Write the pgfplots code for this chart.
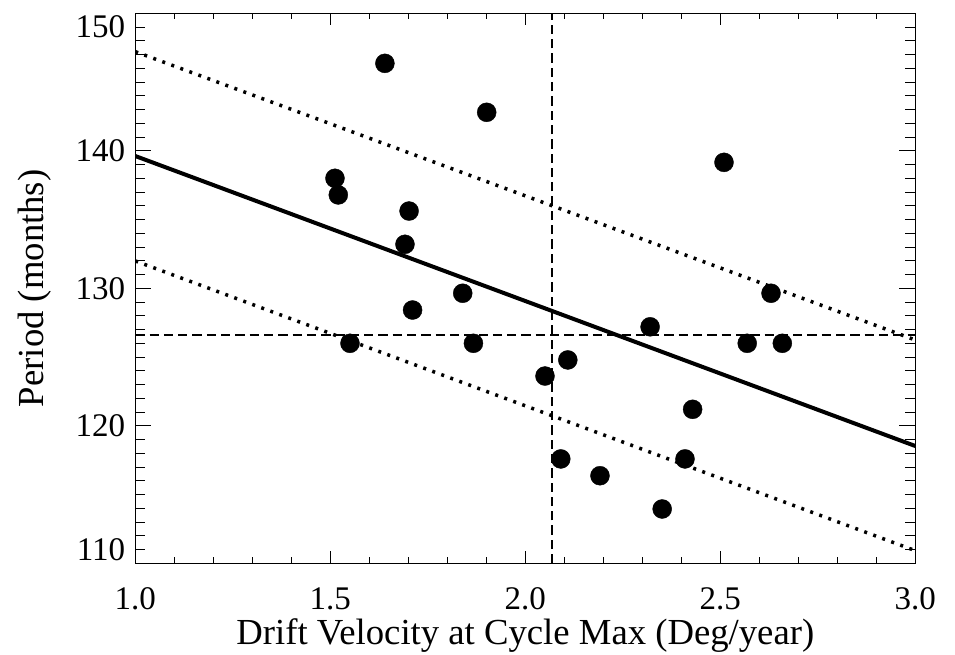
\documentclass[border=0pt]{standalone}
\usepackage{fontspec}
\setmainfont{Liberation Serif}
\usepackage{pgfplots}
\pgfplotsset{compat=1.18}
\begin{document}
\begin{tikzpicture}
\useasboundingbox (-135.3pt,-90.7pt) rectangle (819.7pt,563.3pt);
\begin{axis}[
  at={(0pt,0pt)}, anchor=south west,
  scale only axis, width=780pt, height=550pt,
  xmin=1, xmax=3, ymin=110, ymax=150,
  axis line style={line width=1.3pt},
  xtick={1,1.5,2,2.5,3},
  xticklabels={1.0,1.5,2.0,2.5,3.0},
  ytick={110,120,130,140,150},
  yticklabels={\raisebox{13.3pt}[\height][\depth]{110},120,130,140,\raisebox{-13.3pt}[\height][\depth]{150}},
  minor x tick num=4, minor y tick num=9,
  tick align=inside, xtick pos=both, ytick pos=both,
  tick style={line width=1pt, black},
  xtick style={/pgfplots/major tick length=12pt, /pgfplots/minor tick length=6pt},
  ytick style={/pgfplots/major tick length=16pt, /pgfplots/minor tick length=10pt},
  xticklabel style={font=\fontsize{33}{36}\selectfont, anchor=base, inner sep=0pt, yshift=-46pt},
  yticklabel style={font=\fontsize{33}{36}\selectfont, anchor=east, inner sep=0pt, xshift=-10pt},
  xlabel={Drift Velocity at Cycle Max (Deg/year)},
  ylabel={Period (months)},
  xlabel style={font=\fontsize{36.7}{40}\selectfont, at={(axis description cs:0.5,-0.148)}, anchor=base, inner sep=0pt},
  ylabel style={font=\fontsize{36.7}{40}\selectfont, at={(axis description cs:-0.118,0.5)}, anchor=base, inner sep=0pt},
  clip=true,
]
% regression line
\addplot[black, line width=4pt] coordinates {(1,139.62) (3,118.53)};
% confidence bounds
\addplot[black, line width=3.5pt, dash pattern=on 3pt off 6.6pt] coordinates {(1,147.21) (3,126.24)};
\addplot[black, line width=3.5pt, dash pattern=on 3pt off 6.6pt] coordinates {(1,131.99) (3,110.92)};
% mean lines
\addplot[black, line width=2.2pt, dash pattern=on 9.3pt off 5pt] coordinates {(2.069,110) (2.069,150)};
\addplot[black, line width=2.2pt, dash pattern=on 9.3pt off 5pt] coordinates {(1,126.6) (3,126.6)};
% data points
\addplot[only marks, mark=*, mark size=9.5pt, mark options={fill=black, draw=black}] coordinates {
(1.640,146.36) (1.901,142.8) (2.5095,139.16) (1.512,138.0) (1.5205,136.79)
(1.702,135.62) (1.6915,133.2) (1.8395,129.64) (2.630,129.64) (1.711,128.42)
(2.320,127.2) (1.5505,126.0) (1.867,126.0) (2.569,126.0) (2.659,126.0)
(2.109,124.79) (2.0505,123.62) (2.429,121.2) (2.091,117.59) (2.4095,117.59)
(2.1915,116.37) (2.351,113.95)
};
\end{axis}
\end{tikzpicture}
\end{document}
